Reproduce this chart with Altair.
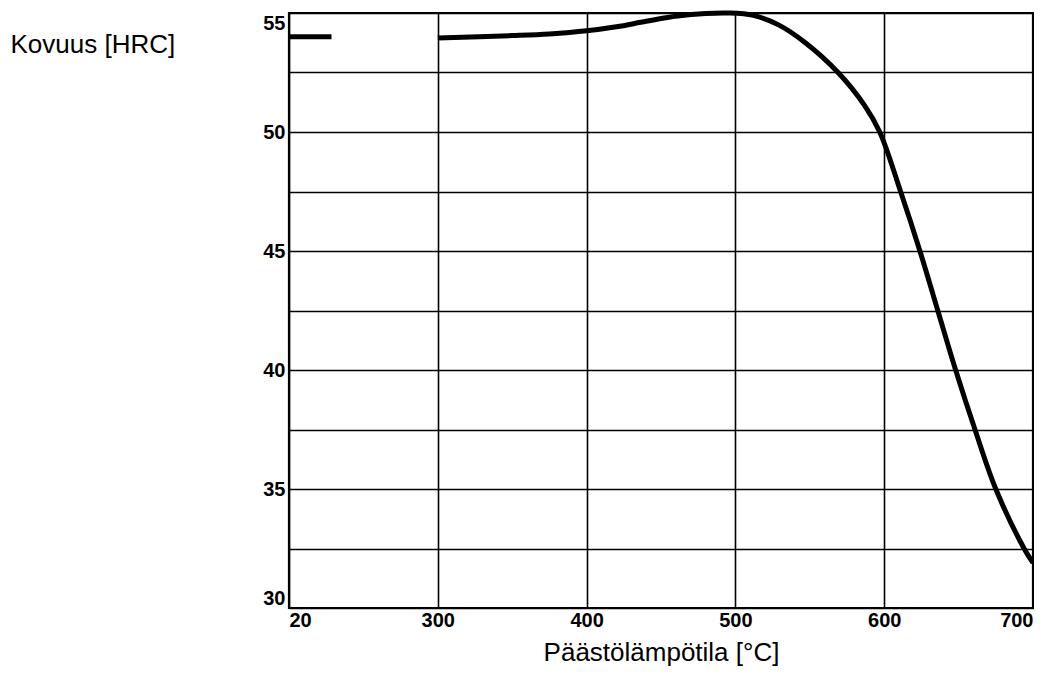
import altair as alt
import pandas as pd

# Data
short_temp = [20, 100]
short_hrc = [54.0, 54.0]

main_temp = [300, 350, 375, 400, 420, 440, 461, 480, 495, 512, 529, 547, 569,
             587, 597, 611, 624, 636, 648, 661, 675, 694, 700]
main_hrc = [53.95, 54.05, 54.12, 54.25, 54.42, 54.65, 54.87, 54.98, 55.0,
            54.9, 54.5, 53.75, 52.5, 51.1, 50.0, 47.5, 45.0, 42.5, 40.0,
            37.5, 35.0, 32.5, 31.9]

x_ticks = [20, 300, 400, 500, 600, 700]
y_ticks = [30, 32.5, 35, 37.5, 40, 42.5, 45, 47.5, 50, 52.5, 55]

df = pd.DataFrame({
    "temp": short_temp + main_temp,
    "hrc": short_hrc + main_hrc,
    "seg": ["a"] * len(short_temp) + ["b"] * len(main_temp),
})

W = 744
H = 595
step = W / 5
x_range = [0, step, 2 * step, 3 * step, 4 * step, W]

chart = alt.Chart(df).mark_line(
    color="black", strokeWidth=5, interpolate="catmull-rom", strokeCap="butt"
).encode(
    x=alt.X(
        "temp:Q",
        scale=alt.Scale(domain=x_ticks, range=x_range, zero=False, nice=False),
        axis=alt.Axis(
            values=x_ticks,
            title="Päästölämpötila [°C]",
            titleFont="Liberation Sans",
            titleFontSize=26,
            titleFontWeight="normal",
            titleColor="black",
            titleBaseline="alphabetic",
            titleY=52,
            labelFont="Liberation Sans",
            labelFontSize=20,
            labelFontWeight="bold",
            labelColor="black",
            labelFlush=True,
            labelPadding=2,
            ticks=False,
            domain=False,
            grid=True,
            gridColor="black",
            gridWidth=1.6,
            gridOpacity=1,
        ),
    ),
    y=alt.Y(
        "hrc:Q",
        scale=alt.Scale(domain=[30, 55], zero=False, nice=False),
        axis=alt.Axis(
            values=y_ticks,
            labelExpr="datum.value % 5 == 0 ? datum.label : ''",
            title="Kovuus [HRC]",
            titleAngle=0,
            titleAlign="left",
            titleBaseline="alphabetic",
            titleX=-279,
            titleY=39,
            titleFont="Liberation Sans",
            titleFontSize=26,
            titleFontWeight="normal",
            titleColor="black",
            labelFont="Liberation Sans",
            labelFontSize=20,
            labelFontWeight="bold",
            labelColor="black",
            labelFlush=True,
            labelPadding=4,
            ticks=False,
            domain=False,
            grid=True,
            gridColor="black",
            gridWidth=1.6,
            gridOpacity=1,
        ),
    ),
    detail="seg:N",
).properties(
    width=W,
    height=H,
    autosize=alt.AutoSizeParams(type="none"),
    padding={"left": 281, "top": 5, "right": 1, "bottom": 58},
).configure_view(
    stroke="black",
    strokeWidth=2.2,
)

chart.save("out.html", embed_options={"renderer": "svg", "actions": False})
